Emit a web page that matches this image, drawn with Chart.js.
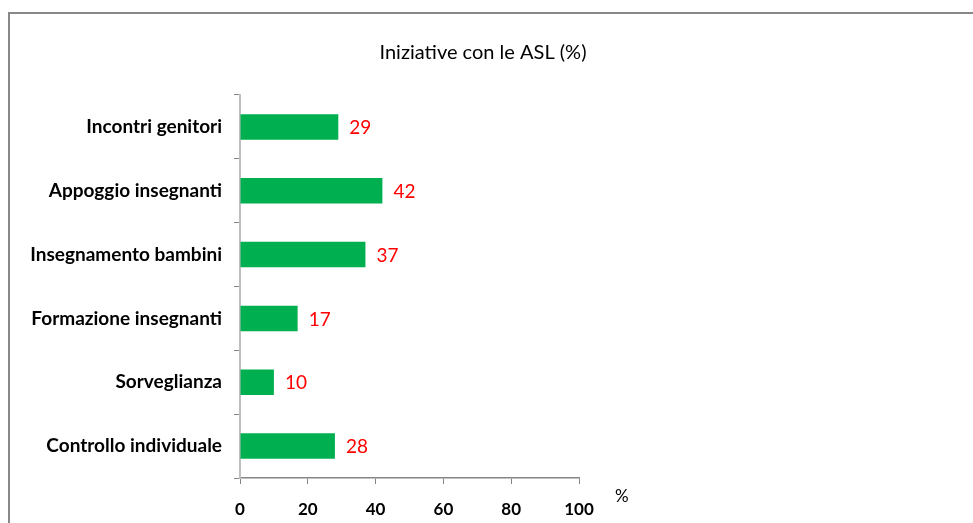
<!DOCTYPE html>
<html>
<head>
<meta charset="utf-8">
<script src="https://cdn.jsdelivr.net/npm/chart.js@4"></script>
<style>
  html, body { margin: 0; padding: 0; background: #fff; overflow: hidden; }
  #frame { position: absolute; left: 8px; top: 12px; width: 1000px; height: 600px; border: 2px solid #888; box-sizing: border-box; }
  #wrap { position: absolute; left: 0; top: 0; width: 973px; height: 523px; }
</style>
</head>
<body>
<div id="frame"></div>
<div id="wrap"><canvas id="asl"></canvas></div>
<script>
const categories = ['Incontri genitori', 'Appoggio insegnanti', 'Insegnamento bambini', 'Formazione insegnanti', 'Sorveglianza', 'Controllo individuale']
const values = [29, 42, 37, 17, 10, 28]
const xTicks = [0, 20, 40, 60, 80, 100]
const chartTitle = 'Iniziative con le ASL (%)'

const FONT = 'Lato, "Open Sans", sans-serif'

// title, value labels and the "%" unit are drawn by hand
const extras = {
    id: 'extras',
    afterDatasetsDraw(chart) {
        const { ctx } = chart
        const meta = chart.getDatasetMeta(0)
        ctx.save()
        ctx.fillStyle = '#ff0000'
        ctx.font = '19px ' + FONT
        ctx.textBaseline = 'middle'
        ctx.textAlign = 'left'
        meta.data.forEach((bar, i) => {
            ctx.fillText(values[i], bar.x + 11, bar.y + 1)
        })

        ctx.fillStyle = '#000'
        ctx.font = '17px ' + FONT
        ctx.fillText('%', chart.chartArea.right + 36, chart.chartArea.bottom + 19)

        ctx.font = '20px ' + FONT
        ctx.textAlign = 'center'
        ctx.fillText(chartTitle, 483, 53)
        ctx.restore()
    }
}

const data = {
    labels: categories,
    datasets: [{
        data: values,
        backgroundColor: '#00b050',
        borderWidth: 0,
        barPercentage: 0.4,
        categoryPercentage: 1
    }]
}

const options = {
    responsive: false,
    animation: false,
    indexAxis: 'y',
    layout: { padding: { left: 0, right: 394, top: 95, bottom: 0 } },
    plugins: {
        legend: { display: false },
        tooltip: { enabled: false },
        title: { display: false }
    },
    scales: {
        x: {
            min: 0,
            max: 100,
            afterBuildTicks: scale => { scale.ticks = xTicks.map(v => ({ value: v })) },
            afterFit: scale => { scale.height = 45 },
            grid: { drawOnChartArea: false, drawTicks: true, tickLength: 6, color: '#868686' },
            border: { color: '#868686', width: 1.5 },
            ticks: { color: '#000', padding: 15, font: { family: FONT, size: 17, weight: 'bold' } }
        },
        y: {
            afterFit: scale => { scale.width = 240 },
            grid: { drawOnChartArea: false, drawTicks: true, tickLength: 6, color: '#868686', offset: true },
            border: { color: '#bfbfbf', width: 2 },
            ticks: { color: '#000', padding: 12, font: { family: FONT, size: 19, weight: 'bold' } }
        }
    }
}

const canvas = document.getElementById('asl')
canvas.width = 973
canvas.height = 523
new Chart(canvas, { type: 'bar', data, options, plugins: [extras] })
</script>
</body>
</html>
